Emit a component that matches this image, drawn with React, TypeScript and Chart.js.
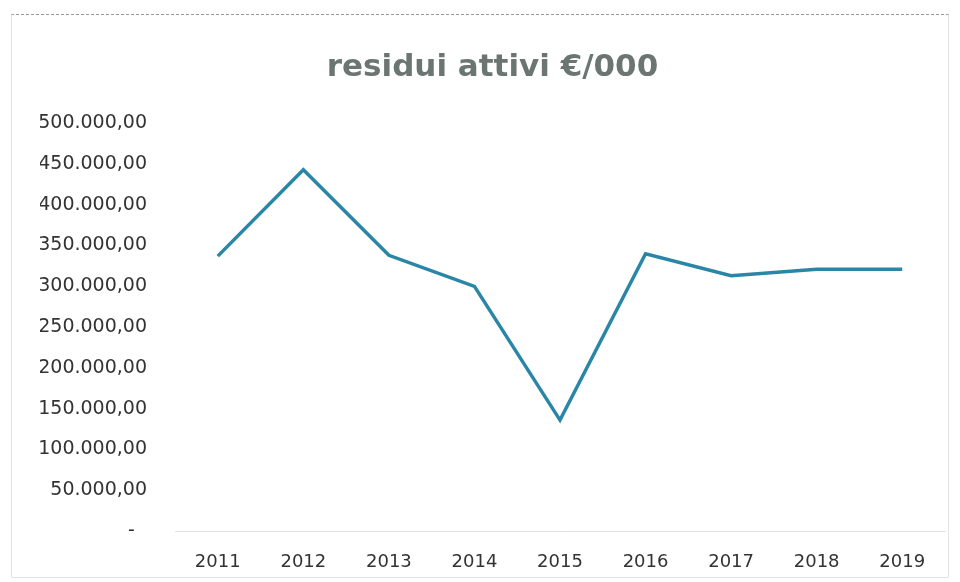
import React, { useEffect, useRef } from "react";
import { Chart, registerables } from "chart.js";

Chart.register(...registerables);

const years = ["2011", "2012", "2013", "2014", "2015", "2016", "2017", "2018", "2019"];
const residuiAttivi = [337000, 443000, 338000, 300000, 136000, 340000, 313000, 321000, 321000];
const titleText = "residui attivi €/000";

function formatIt(v: number): string {
  if (v === 0) return "-  ";
  const intPart = Math.round(v).toString().replace(/\B(?=(\d{3})+(?!\d))/g, ".");
  return intPart + ",00";
}

export default function App() {
  const ref = useRef<HTMLCanvasElement | null>(null);
  useEffect(() => {
    if (!ref.current) return;
    const chart = new Chart(ref.current, {
      type: "line",
      data: {
        labels: years,
        datasets: [
          {
            data: residuiAttivi,
            borderColor: "#2a86a6",
            borderWidth: 3.5,
            pointRadius: 0,
            tension: 0,
            fill: false,
          },
        ],
      },
      options: {
        animation: false,
        responsive: false,
        layout: { padding: { left: 40, right: 15, top: 0, bottom: 0 } },
        plugins: {
          legend: { display: false },
          tooltip: { enabled: false },
          title: {
            display: true,
            text: titleText,
            color: "#6b7672",
            font: { family: "'DejaVu Sans'", size: 31, weight: "bold" },
            padding: { top: 49, bottom: 37 },
          },
        },
        scales: {
          x: {
            offset: true,
            grid: { display: false, drawTicks: false },
            border: { display: true, color: "#e2e2e2", width: 1 },
            ticks: {
              color: "#333333",
              font: { family: "'DejaVu Sans'", size: 18 },
              padding: 21,
            },
            afterFit: (s: any) => {
              s.height = 51;
            },
          },
          y: {
            min: 0,
            max: 500000,
            grid: { display: false, drawTicks: false },
            border: { display: false },
            ticks: {
              stepSize: 50000,
              color: "#333333",
              font: { family: "'DejaVu Sans'", size: 19 },
              padding: 28,
              callback: (v: any) => formatIt(Number(v)),
            },
            afterFit: (s: any) => {
              s.width = 135;
            },
          },
        },
      },
    });
    return () => chart.destroy();
  }, []);
  return (
    <div style={{ position: "fixed", left: 0, top: 0, width: 960, height: 582, background: "#fff" }}>
      <div
        style={{
          position: "absolute",
          left: 11,
          top: 14,
          width: 938,
          height: 564,
          border: "1px solid #e4e4e4",
          borderTop: "1px dashed #9a9a9a",
          boxSizing: "border-box",
        }}
      />
      <canvas ref={ref} width={960} height={582} style={{ position: "absolute", left: 0, top: 0 }} />
    </div>
  );
}
